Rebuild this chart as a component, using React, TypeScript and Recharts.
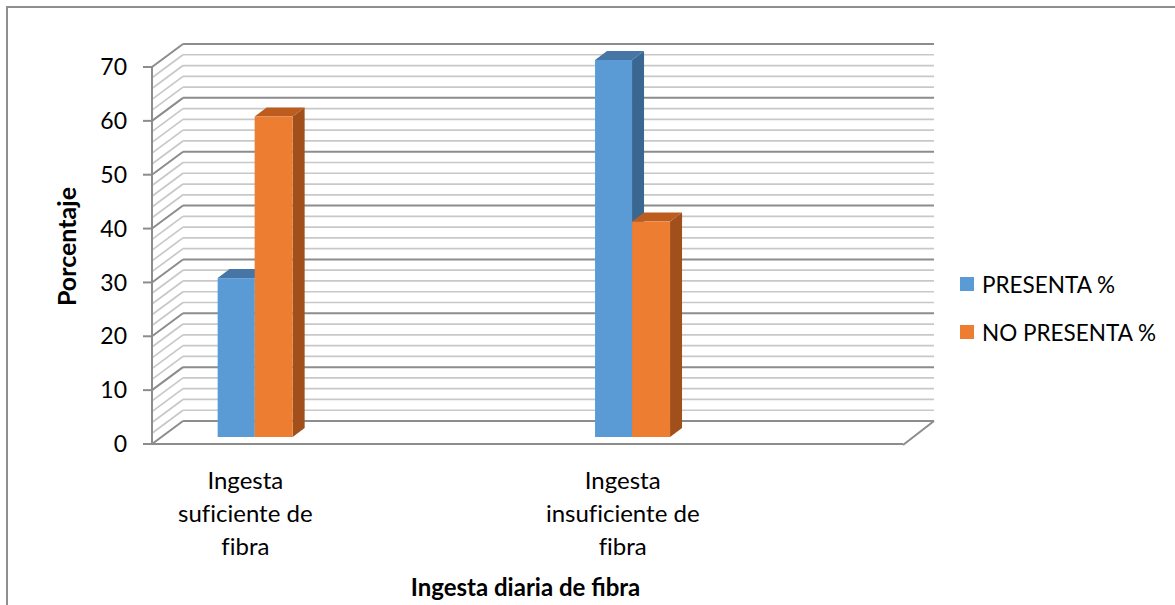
import React from 'react';
import { BarChart, Bar, XAxis, YAxis, CartesianGrid, Legend } from 'recharts';

// Ingesta de fibra vs. presencia del cuadro (%)
const categories = ['Ingesta suficiente de fibra', 'Ingesta insuficiente de fibra'];
const categoryLines = [
  ['Ingesta', 'suficiente de', 'fibra'],
  ['Ingesta', 'insuficiente de', 'fibra'],
];
const presenta = [29.5, 70];
const noPresenta = [59.5, 40];
const yTicks = [0, 10, 20, 30, 40, 50, 60, 70];
const gridValues = Array.from({ length: 36 }, (_, i) => i * 2);

const seriesNames = ['PRESENTA %', 'NO PRESENTA %'];

const data = categories.map((name, i) => ({
  name,
  pos: i + 1,
  presenta: presenta[i],
  noPresenta: noPresenta[i],
}));

const W = 1175;
const H = 605;
const FONT = 'Lato, "Open Sans", sans-serif';
const AXIS_GRAY = '#8c8c8c';
const MINOR_GRAY = '#c8c8c8';

// depth of the 3D box (back wall offset) and bar placement inside it
const DEPTH = { dx: 31, dy: -23 };
const BAR_FRONT = { dx: 9, dy: -7 };
const BAR_DEPTH = { dx: 12, dy: -9 };

const BLUE = { front: '#5B9BD5', top: '#4675A6', side: '#3A6792' };
const ORANGE = { front: '#ED7D31', top: '#BC5C1F', side: '#A1501B' };

const Box3D = (props: any) => {
  const { x, y, width, height, colors } = props;
  if (width == null || height == null) return null;
  const fx = x + BAR_FRONT.dx;
  const fy = y + BAR_FRONT.dy;
  const sx = BAR_DEPTH.dx;
  const sy = BAR_DEPTH.dy;
  const top = `${fx},${fy} ${fx + width},${fy} ${fx + width + sx},${fy + sy} ${fx + sx},${fy + sy}`;
  const side = `${fx + width},${fy} ${fx + width + sx},${fy + sy} ${fx + width + sx},${fy + height + sy} ${fx + width},${fy + height}`;
  return (
    <g>
      <polygon points={side} fill={colors.side} />
      <polygon points={top} fill={colors.top} />
      <rect x={fx} y={fy} width={width} height={height} fill={colors.front} />
    </g>
  );
};

// side wall hatch + back wall line for every grid value, floor edge at 0
const WallLine = (props: any) => {
  const { x1, x2, y1, index } = props;
  const value = gridValues[index];
  const major = value % 10 === 0;
  const stroke = major ? AXIS_GRAY : MINOR_GRAY;
  const sw = major ? 2 : 1.7;
  const bx = x1 + DEPTH.dx;
  const by = y1 + DEPTH.dy;
  return (
    <g key={`wall-${index}`}>
      <line x1={x1} y1={y1} x2={bx} y2={by} stroke={stroke} strokeWidth={sw} />
      <line x1={bx} y1={by} x2={x2 + DEPTH.dx} y2={by} stroke={stroke} strokeWidth={sw} />
      {value === 0 && (
        <line x1={x2} y1={y1 + 1} x2={x2 + DEPTH.dx} y2={by} stroke={AXIS_GRAY} strokeWidth={2} />
      )}
    </g>
  );
};

const CategoryTick = (props: any) => {
  const { x, y, payload } = props;
  const lines = categoryLines[payload.value - 1] || [];
  return (
    <text
      x={x - 1}
      y={y}
      textAnchor="middle"
      fill="#000"
      fontSize={24}
      fontFamily={FONT}
      style={{ fontVariantLigatures: 'none' }}
    >
      {lines.map((l, i) => (
        <tspan key={i} x={x - 1} dy={i === 0 ? 43 : 33}>
          {l}
        </tspan>
      ))}
    </text>
  );
};

const YTitle = (props: any) => {
  const vb = props.viewBox || { y: 67, height: 377 };
  const cx = 66;
  const cy = vb.y + vb.height / 2 - 9;
  return (
    <text
      x={cx}
      y={cy}
      transform={`rotate(-90 ${cx} ${cy})`}
      textAnchor="middle"
      dominantBaseline="central"
      fontSize={25}
      fontWeight="bold"
      fontFamily={FONT}
      fill="#000"
    >
      Porcentaje
    </text>
  );
};

const XTitle = (props: any) => {
  const vb = props.viewBox || { x: 152, width: 751 };
  const cx = vb.x + vb.width / 2 - 2;
  return (
    <text x={cx} y={586} textAnchor="middle" dominantBaseline="central" fontSize={24} fontWeight="bold" fontFamily={FONT} fill="#000">
      Ingesta diaria de fibra
    </text>
  );
};

const LegendContent = (props: any) => {
  const items = [...(props.payload || [])].sort(
    (a: any, b: any) => seriesNames.indexOf(a.value) - seriesNames.indexOf(b.value),
  );
  return (
    <div style={{ fontFamily: FONT, fontSize: 22.5, color: '#000' }}>
      {items.map((item: any) => (
        <div key={item.value} style={{ display: 'flex', alignItems: 'center', height: 48 }}>
          <span style={{ width: 14, height: 14, background: item.color, marginRight: 8, display: 'inline-block' }} />
          <span>{item.value}</span>
        </div>
      ))}
    </div>
  );
};

export default function App() {
  return (
    <div style={{ position: 'absolute', left: 0, top: 0, width: W, height: H, overflow: 'hidden', background: '#fff' }}>
      <div
        style={{
          position: 'absolute',
          left: 6,
          top: 6,
          width: W + 20,
          height: H + 20,
          border: '2px solid #8f8f8f',
          boxSizing: 'border-box',
        }}
      />
      <div style={{ position: 'absolute', left: 0, top: 0 }}>
        <BarChart
          width={W}
          height={H}
          data={data}
          margin={{ top: 67, right: 272, bottom: 41, left: 0 }}
          barGap={0}
        >
          <CartesianGrid vertical={false} horizontal={WallLine} horizontalValues={gridValues} />
          <XAxis
            dataKey="pos"
            type="number"
            domain={[0.75, 2.74]}
            ticks={[1, 2]}
            allowDataOverflow
            height={120}
            tickLine={false}
            tickSize={0}
            tick={<CategoryTick />}
            axisLine={{ stroke: AXIS_GRAY, strokeWidth: 2 }}
            label={<XTitle />}
          />
          <YAxis
            width={152}
            domain={[0, 70]}
            ticks={yTicks}
            interval={0}
            tickSize={9}
            tickMargin={16}
            tickLine={{ stroke: AXIS_GRAY, strokeWidth: 2 }}
            axisLine={{ stroke: AXIS_GRAY, strokeWidth: 2 }}
            tick={{ fill: '#000', fontSize: 23, fontFamily: FONT }}
            label={<YTitle />}
          />
          <Legend
            layout="vertical"
            align="center"
            verticalAlign="middle"
            content={<LegendContent />}
            wrapperStyle={{ left: 960, top: 260, width: 215 }}
          />
          <Bar
            dataKey="presenta"
            name={seriesNames[0]}
            fill={BLUE.front}
            barSize={37}
            isAnimationActive={false}
            shape={(p: any) => <Box3D {...p} colors={BLUE} />}
          />
          <Bar
            dataKey="noPresenta"
            name={seriesNames[1]}
            fill={ORANGE.front}
            barSize={38}
            isAnimationActive={false}
            shape={(p: any) => <Box3D {...p} colors={ORANGE} />}
          />
        </BarChart>
      </div>
    </div>
  );
}
